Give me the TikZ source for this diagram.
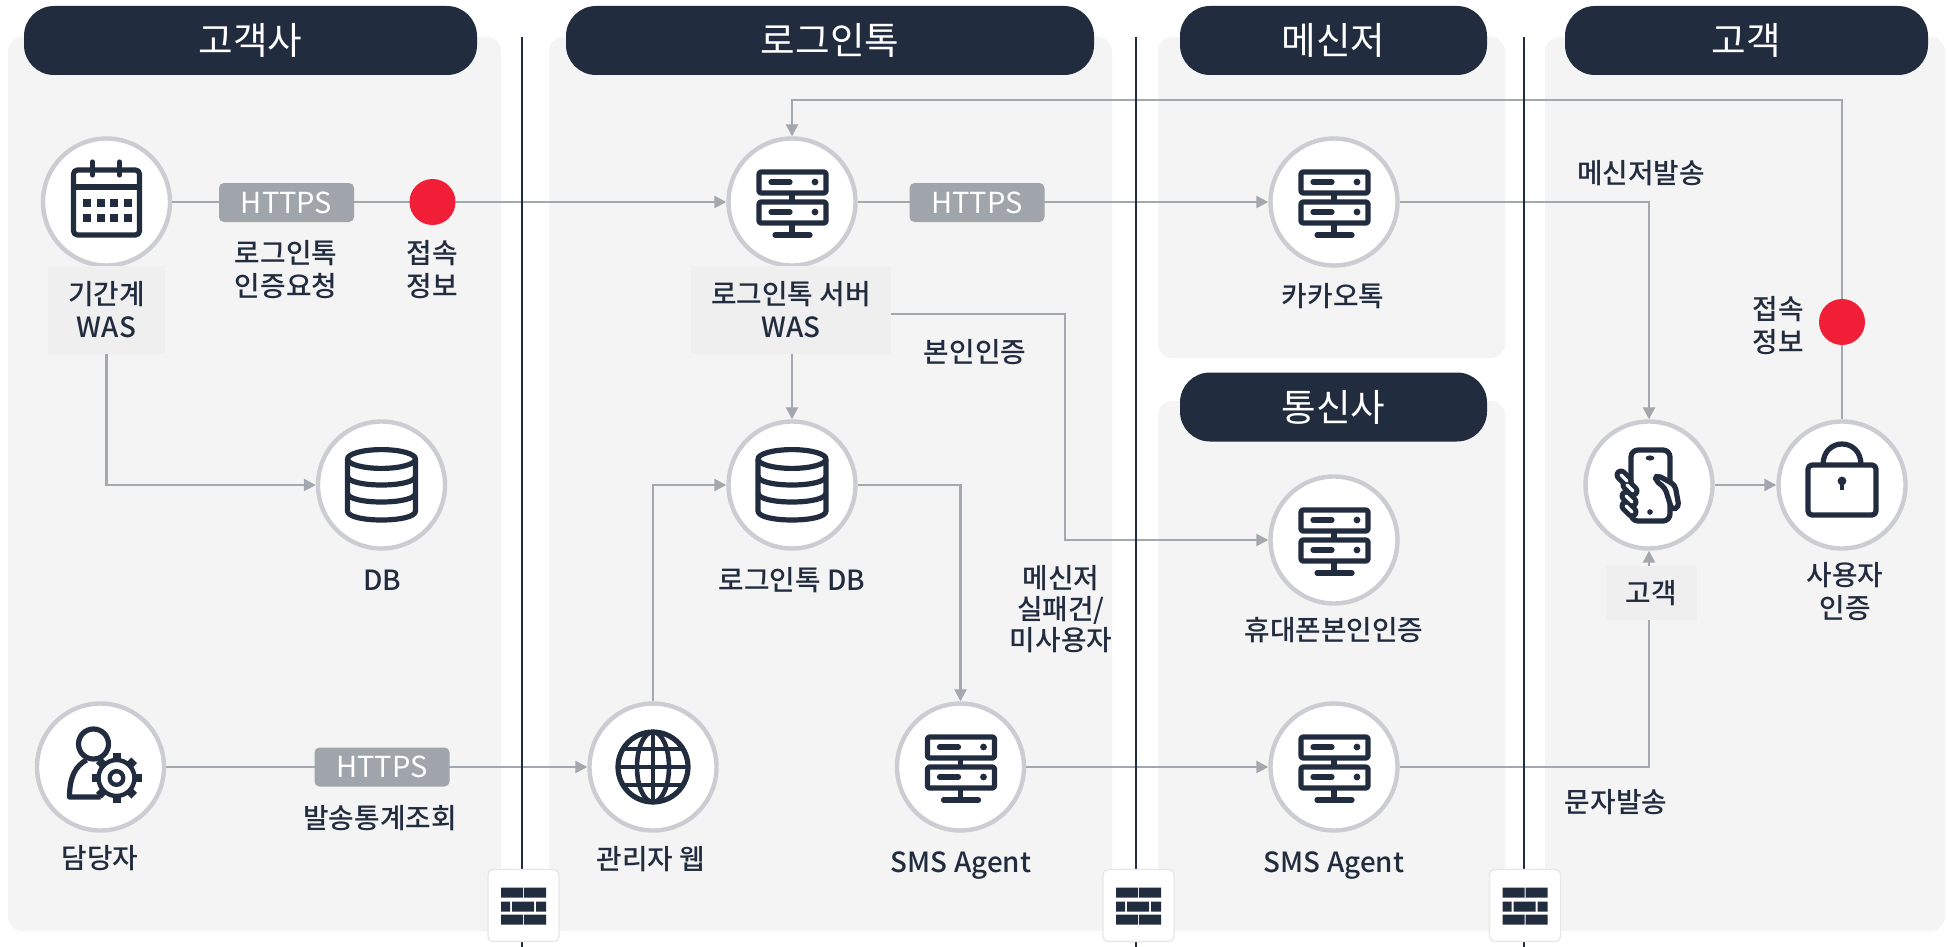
\documentclass[tikz,border=0pt]{standalone}
\usepackage{fontspec}
\setmainfont{Noto Sans CJK KR}
\newfontfamily\labf{Noto Sans CJK KR Medium}
\usetikzlibrary{arrows.meta,positioning,calc}
\definecolor{ink}{HTML}{222C3F}
\definecolor{panelc}{HTML}{F4F4F4}
\definecolor{labelc}{HTML}{EFEFEF}
\definecolor{ringc}{HTML}{CBCDD2}
\definecolor{wire}{HTML}{A3A7AE}
\definecolor{badge}{HTML}{A0A4AB}
\definecolor{reddot}{HTML}{F01F37}
\definecolor{fwline}{HTML}{E6E7E9}
\pgfdeclarelayer{bg}
\pgfdeclarelayer{conn}
\pgfsetlayers{bg,conn,main}
\tikzset{
  panel/.style={fill=panelc,rounded corners=7pt},
  sep/.style={draw=ink,line width=1.1pt},
  head/.style={fill=ink,text=white,rounded corners=15pt,minimum height=34.5pt,inner sep=0pt,font=\fontsize{18.8}{22}\selectfont},
  ring/.style={circle,draw=ringc,fill=white,line width=2.2pt,minimum size=63.5pt,inner sep=0pt},
  hbadge/.style={fill=badge,text=white,rounded corners=2.5pt,minimum width=67.5pt,minimum height=19.5pt,inner sep=0pt,font=\fontsize{14.5}{16}\selectfont},
  txt/.style={text=ink,align=center,inner sep=0pt,font=\labf\fontsize{13.9}{16.5}\selectfont},
  lbox/.style={txt,fill=labelc},
  dot/.style={circle,fill=reddot,minimum size=23pt,inner sep=0pt},
  fwbox/.style={draw=fwline,fill=white,line width=0.7pt,rounded corners=2.5pt,minimum width=35.5pt,minimum height=36pt,inner sep=0pt},
  wirel/.style={draw=wire,line width=1.2pt},
  arr/.style={wirel,-{Triangle[length=6pt,width=6pt]}},
  ico/.style={draw=ink,line width=2.6pt,line join=round},
}
\newcommand\iconserver[1]{\begin{scope}[shift={(#1.center)}]
  \draw[ico,rounded corners=1pt] (-33,-30) rectangle (34,-9);
  \draw[ico,rounded corners=1pt] (-33,0) rectangle (34,21);
  \draw[ico] (0,-9)--(0,0) (0,21)--(0,33);
  \draw[ico,line cap=round] (-17,33)--(18,33) (-21,-20)--(-2,-20) (-21,10)--(-2,10);
  \fill[ink] (23,-20) circle[radius=1.7pt] (23,10) circle[radius=1.7pt];
\end{scope}}
\newcommand\icondb[1]{\begin{scope}[shift={(#1.center)}]
  \draw[ico] (0,-26) ellipse[x radius=17pt,y radius=4.7pt];
  \draw[ico] (-34,-26)--(-34,26) .. controls (-34,38) and (34,38) .. (34,26)--(34,-26);
  \draw[ico] (-34,-9) .. controls (-34,3) and (34,3) .. (34,-9);
  \draw[ico] (-34,8) .. controls (-34,20) and (34,20) .. (34,8);
\end{scope}}
\newcommand\iconcal[1]{\begin{scope}[shift={(#1.center)}]
  \draw[ico,rounded corners=2pt] (-33,-32) rectangle (33,33);
  \draw[ico] (-33,-15)--(33,-15);
  \draw[ico,line cap=round] (-14,-40)--(-14,-27) (13,-40)--(13,-27);
  \foreach \yy in {1,16}{\foreach \xx in {-20,-6,7,21}{
    \fill[ink] (\xx-4,\yy-4) rectangle (\xx+4,\yy+4);}}
\end{scope}}
\newcommand\iconlock[1]{\begin{scope}[shift={(#1.center)}]
  \draw[ico,rounded corners=2pt] (-34,-20) rectangle (34,30);
  \draw[ico] (-19,-20) .. controls (-19,-48) and (19,-48) .. (19,-20);
  \fill[ink] (0,-4) circle[radius=2.2pt];
  \draw[ink,line width=1.6pt] (0,-4)--(0,5);
\end{scope}}
\newcommand\iconglobe[1]{\begin{scope}[shift={(#1.center)}]
  \draw[ico] (0,0) circle[radius=17.5pt];
  \draw[ico,line width=2.3pt] (0,0) ellipse[x radius=8pt,y radius=17.5pt];
  \draw[ico,line width=2.3pt] (0,-35)--(0,35) (-35,0)--(35,0) (-30,-18)--(30,-18) (-30,18)--(30,18);
\end{scope}}
\newcommand\iconphone[1]{\begin{scope}[shift={(#1.center)}]
  \draw[ico,rounded corners=3.5pt] (-18,-35) rectangle (21,36);
  \fill[ink] (1,-27) ellipse[x radius=2.2pt,y radius=1.3pt];
  \fill[ink] (1,27) circle[radius=1.4pt];
  \foreach \ax/\ay in {-25/-7,-19/3,-20/14,-20/24}{
    \draw[ink,line width=6.5pt,line cap=round] (\ax-3,\ay-3)--(\ax+3,\ay+3);
  }
  \foreach \ax/\ay in {-25/-7,-19/3,-20/14,-20/24}{
    \draw[white,line width=1.6pt,line cap=round] (\ax-3,\ay-3)--(\ax+3,\ay+3);
  }
  \draw[ico,fill=white,rounded corners=2pt] (8,-10)--(26,0)--(30,22)--(23,25)--(16,3)--(6,-5)--cycle;
\end{scope}}
\newcommand\iconperson[1]{\begin{scope}[shift={(#1.center)}]
  \draw[ico] (-7,-23) circle[radius=7.5pt];
  \draw[ico] (0,30)--(-31,30) .. controls (-31,10) and (-25,-1) .. (-14,-7);
  \begin{scope}[shift={(16,11)}]
    \foreach \ang in {0,45,...,315}{\draw[ink,line width=4pt] (\ang:8.5pt)--(\ang:12.5pt);}
    \draw[ico,line width=2.2pt,fill=white] (0,0) circle[radius=9pt];
    \draw[ico,line width=2.2pt] (0,0) circle[radius=3.4pt];
  \end{scope}
\end{scope}}
\newcommand\iconfw[1]{\begin{scope}[shift={(#1.center)}]
  \fill[ink] (-22.5,-18) rectangle (-0.5,-8) (0.5,-18) rectangle (22.5,-8);
  \fill[ink] (-22.5,-4) rectangle (-13.5,6) (-11.5,-4) rectangle (10.5,6) (12.5,-4) rectangle (22.5,6);
  \fill[ink] (-22.5,9) rectangle (-0.5,19) (0.5,9) rectangle (22.5,19);
\end{scope}}
\begin{document}
\begin{tikzpicture}[x=0.5pt,y=-0.5pt]
\useasboundingbox (0,0) rectangle (1949,947);
\begin{pgfonlayer}{bg}
  \fill[white] (0,0) rectangle (1949,947);
  \fill[panel] (8,37) rectangle (501,931);
  \fill[panel] (549,37) rectangle (1112,931);
  \fill[panel] (1158,37) rectangle (1505,358);
  \fill[panel] (1158,401) rectangle (1505,931);
  \fill[panel] (1545,37) rectangle (1945,931);
\end{pgfonlayer}
% headers
\node[head,minimum width=226.5pt] (h1) at (250.5,40.5) {고객사};
\node[head,minimum width=264pt] (h2) at (830,40.5) {로그인톡};
\node[head,minimum width=153.5pt] (h3) at (1333.5,40.5) {메신저};
\node[head,minimum width=153.5pt] (h4) at (1333.5,407) {통신사};
\node[head,minimum width=181.5pt] (h5) at (1746.5,40.5) {고객};
% circles
\node[ring] (cal) at (106.5,202) {};
\node[ring] (srv) at (792,202) {};
\node[ring] (kakao) at (1334,202) {};
\node[ring] (db1) at (381.5,485) {};
\node[ring] (db2) at (792,485) {};
\node[ring] (cert) at (1334,540) {};
\node[ring] (admin) at (100.5,767) {};
\node[ring] (web) at (653,767) {};
\node[ring] (sms1) at (960.5,767) {};
\node[ring] (sms2) at (1334,767) {};
\node[ring] (phone) at (1649,485) {};
\node[ring] (lock) at (1842,485) {};
\iconcal{cal}\iconserver{srv}\iconserver{kakao}\icondb{db1}\icondb{db2}\iconserver{cert}
\iconperson{admin}\iconglobe{web}\iconserver{sms1}\iconserver{sms2}\iconphone{phone}\iconlock{lock}
% badges and dots
\node[hbadge] (b1) at (286.5,202.5) {HTTPS};
\node[hbadge] (b2) at (977,202.5) {HTTPS};
\node[hbadge] (b3) at (382,767) {HTTPS};
\node[dot] (d1) at (432.5,202) {};
\node[dot] (d2) at (1842,322) {};
% boxed labels
\node[lbox,minimum width=58.5pt,minimum height=44pt] (lcal) at (106.5,310) {기간계\\WAS};
\node[lbox,minimum width=100pt,minimum height=44pt] (lsrv) at (791,310) {로그인톡 서버\\WAS};
\node[lbox,minimum width=45.5pt,minimum height=27pt] (lcust) at (1651.5,593) {고객};
% plain labels
\node[txt] (t1) at (286,270) {로그인톡\\인증요청};
\node[txt] (t2) at (432.5,270) {접속\\정보};
\node[txt] (t3) at (975,352) {본인인증};
\node[txt] (t4) at (382,580) {DB};
\node[txt] (t5) at (792,580) {로그인톡 DB};
\node[txt,font=\labf\fontsize{13.9}{15.5}\selectfont] (t6) at (1061,609) {메신저\\실패건/\\미사용자};
\node[txt] (t7) at (1333,296) {카카오톡};
\node[txt] (t8) at (1641,173) {메신저발송};
\node[txt] (t9) at (1778,326) {접속\\정보};
\node[txt] (t10) at (1845,592) {사용자\\인증};
\node[txt] (t11) at (1334,630) {휴대폰본인인증};
\node[txt] (t12) at (100,858) {담당자};
\node[txt] (t13) at (380,818) {발송통계조회};
\node[txt] (t14) at (651,859) {관리자 웹};
\node[txt] (t15) at (961,865) {SMS Agent};
\node[txt] (t16) at (1334,865) {SMS Agent};
\node[txt] (t17) at (1616,802) {문자발송};
% firewalls
\node[fwbox] (fw1) at (523.5,905.5) {};
\node[fwbox] (fw2) at (1138.5,905.5) {};
\node[fwbox] (fw3) at (1525,905.5) {};
\iconfw{fw1}\iconfw{fw2}\iconfw{fw3}
% connectors
\begin{pgfonlayer}{conn}
  \coordinate (topl) at (1842,100);
  \draw[arr] (cal.east) -- (srv.west);
  \draw[arr] (srv.east) -- (kakao.west);
  \draw[arr] (lcal.south) |- (db1.west);
  \draw[arr] (lsrv.south -| srv) -- (db2.north);
  \draw[arr] (lsrv.east |- 0,314) -- (1065,314) |- (cert.west);
  \draw[arr] (web.north) |- (db2.west);
  \draw[arr] (db2.east) -| (sms1.north);
  \draw[arr] (admin.east) -- (web.west);
  \draw[arr] (sms1.east) -- (sms2.west);
  \draw[arr] (kakao.east) -| (phone.north);
  \draw[arr] (phone.east) -- (lock.west);
  \draw[wirel] (sms2.east) -| (lcust.south -| phone);
  \draw[arr] (lcust.north -| phone) -- (phone.south);
  \draw[arr] (lock.north) -- (topl) -| (srv.north);
  \coordinate (sa) at (522,37); \coordinate (sb) at (522,947);
  \coordinate (sc) at (1136,37); \coordinate (sd) at (1136,947);
  \coordinate (se) at (1524,37); \coordinate (sf) at (1524,947);
  \draw[sep] (sa) -- (sb);
  \draw[sep] (sc) -- (sd);
  \draw[sep] (se) -- (sf);
\end{pgfonlayer}
\end{tikzpicture}
\end{document}
